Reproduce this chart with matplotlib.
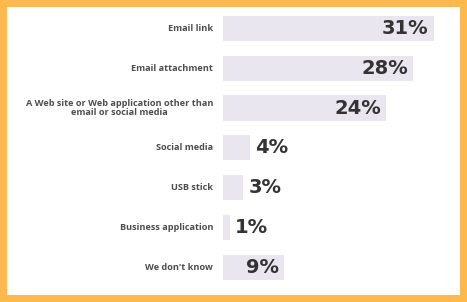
import matplotlib
matplotlib.use("Agg")
import matplotlib.pyplot as plt

# data
categories = ["Email link", "Email attachment",
              "A Web site or Web application other than\nemail or social media",
              "Social media", "USB stick", "Business application", "We don't know"]
values = [31, 28, 24, 4, 3, 1, 9]
value_labels = ["31%", "28%", "24%", "4%", "3%", "1%", "9%"]

W, H = 467, 302
fig = plt.figure(figsize=(W / 100, H / 100), dpi=100, facecolor="#FDB94B")

# white card behind the chart
bg = fig.add_axes([7 / W, 7 / H, 453 / W, 288 / H])
bg.set_facecolor("white")
bg.set_xticks([]); bg.set_yticks([])
for s in bg.spines.values():
    s.set_visible(False)

# bar axes: bars start at x=223px, 6.8px per percent
left_px, top_px, row_px = 223, 8.5, 39.8
n = len(categories)
ax_w = 230
ax = fig.add_axes([left_px / W, (H - top_px - n * row_px) / H, ax_w / W, n * row_px / H])
ax.set_xlim(0, ax_w / 6.8)
ax.set_ylim(n - 0.5, -0.5)
ax.axis("off")

ax.barh(range(n), values, height=0.63, color="#EAE6F0", left=0)

px = 1 / 6.8  # one pixel in data units
for i, (v, lab) in enumerate(zip(values, value_labels)):
    if v >= 5:
        ax.text(v - 5 * px, i, lab, ha="right", va="center", fontsize=14,
                fontweight="bold", color="#333333")
    else:
        ax.text(v + 5 * px, i, lab, ha="left", va="center", fontsize=14,
                fontweight="bold", color="#333333")
    ax.text(-10 * px, i, categories[i], ha="right", va="center", multialignment="center",
            fontsize=6.55, fontweight="bold", color="#4d4d4d", family="Open Sans",
            linespacing=1.1, clip_on=False)

fig.savefig("out.png", dpi=100, facecolor=fig.get_facecolor())
